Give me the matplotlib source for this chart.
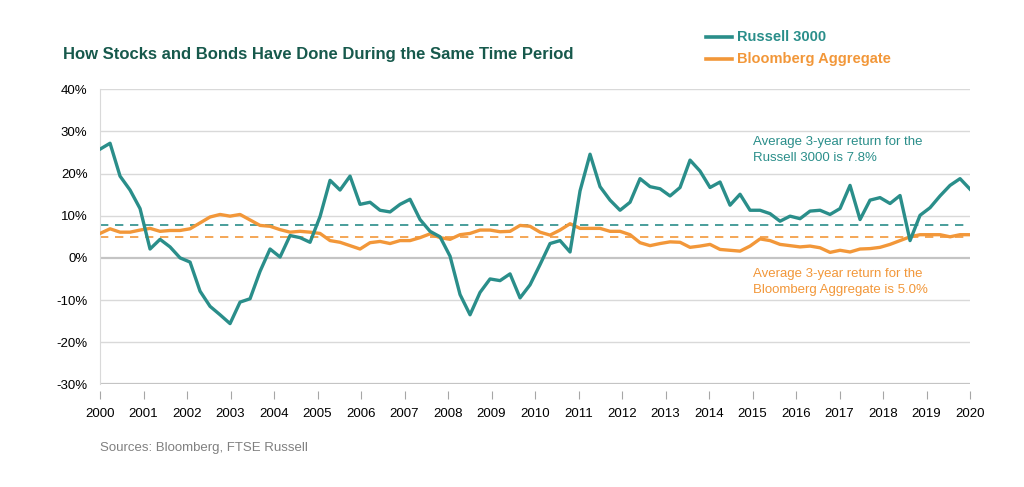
import matplotlib.pyplot as plt
import numpy as np

# 3-year rolling returns (%), 88 points from 2000 to 2020
russell = [25.8, 27.2, 19.4, 16.1, 11.7, 2.1, 4.4, 2.6, 0.0, -1.0,
           -7.9, -11.5, -13.5, -15.6, -10.5, -9.7, -3.2, 2.1, 0.2, 5.3,
           4.8, 3.7, 9.8, 18.4, 16.1, 19.4, 12.7, 13.2, 11.3, 10.9,
           12.7, 13.9, 9.1, 6.3, 5.0, 0.4, -8.7, -13.5, -8.2, -5.0,
           -5.4, -3.8, -9.5, -6.4, -1.6, 3.4, 4.1, 1.4, 15.9, 24.6,
           16.9, 13.7, 11.3, 13.2, 18.8, 16.9, 16.4, 14.7, 16.7, 23.2,
           20.6, 16.7, 18.0, 12.5, 15.1, 11.3, 11.3, 10.5, 8.7, 9.9,
           9.3, 11.1, 11.3, 10.3, 11.7, 17.2, 9.1, 13.7, 14.3, 12.9,
           14.8, 4.1, 10.1, 11.9, 14.7, 17.2, 18.8, 16.3]
bloomberg = [5.8, 6.9, 6.1, 6.1, 6.6, 7.0, 6.3, 6.5, 6.5, 6.9,
             8.3, 9.7, 10.3, 9.9, 10.3, 9.0, 7.7, 7.5, 6.7, 6.1,
             6.3, 6.1, 5.8, 4.1, 3.7, 2.9, 2.1, 3.6, 3.9, 3.4,
             4.1, 4.1, 4.8, 5.7, 4.8, 4.4, 5.5, 5.8, 6.6, 6.6,
             6.2, 6.3, 7.7, 7.5, 6.1, 5.4, 6.6, 8.1, 7.0, 7.0,
             7.0, 6.3, 6.3, 5.5, 3.6, 2.9, 3.4, 3.8, 3.7, 2.5,
             2.8, 3.2, 2.0, 1.8, 1.6, 2.8, 4.5, 4.1, 3.2, 2.9,
             2.6, 2.8, 2.4, 1.3, 1.8, 1.4, 2.1, 2.2, 2.5, 3.2,
             4.1, 5.0, 5.5, 5.5, 5.5, 5.0, 5.5, 5.5]
russell_avg = 7.8
bloomberg_avg = 5.0
years = list(range(2000, 2021))
yticks = [-30, -20, -10, 0, 10, 20, 30, 40]

green = '#2a8e8a'
orange = '#f29739'
title_col = '#17594c'

plt.rcParams['font.family'] = ['Liberation Sans', 'DejaVu Sans']

x = np.linspace(2000, 2020, len(russell))

fig = plt.figure(figsize=(10.24, 4.87), dpi=100)
ax = fig.add_axes([0.0977, 0.2109, 0.8496, 0.6057])

for v in yticks:
    if v == 0 or v == -30:
        ax.axhline(v, color='#c4c4c4', lw=1.6, zorder=1)
    else:
        ax.axhline(v, color='#d9d9d9', lw=1.0, zorder=1)

ax.axhline(russell_avg, color=green, lw=1.2, ls=(0, (5, 4)), zorder=2)
ax.axhline(bloomberg_avg, color=orange, lw=1.2, ls=(0, (5, 4)), zorder=2)

ax.plot(x, bloomberg, color=orange, lw=2.4, zorder=3)
ax.plot(x, russell, color=green, lw=2.4, zorder=4)

ax.set_xlim(2000, 2020)
ax.set_ylim(-30, 40)
ax.set_yticks(yticks)
ax.set_yticklabels([f'{v}%' for v in yticks])
ax.set_xticks(years)
ax.set_xticklabels([str(y) for y in years])

for s in ['top', 'right']:
    ax.spines[s].set_visible(False)
ax.spines['left'].set_color('#d9d9d9')
ax.spines['bottom'].set_position(('outward', 5))
ax.spines['bottom'].set_visible(False)
ax.tick_params(axis='y', length=0, labelsize=9.5, pad=9)
ax.tick_params(axis='x', length=6, color='#a6a6a6', labelsize=9.5, pad=6)

ax.text(2015.02, 29.0, 'Average 3-year return for the\nRussell 3000 is 7.8%',
        color=green, fontsize=9.5, va='top', ha='left', linespacing=1.45)
ax.text(2015.02, -2.4, 'Average 3-year return for the\nBloomberg Aggregate is 5.0%',
        color=orange, fontsize=9.5, va='top', ha='left', linespacing=1.45)

fig.text(63 / 1024, 1 - 55 / 487, 'How Stocks and Bonds Have Done During the Same Time Period',
         fontsize=12, fontweight='bold', color=title_col, va='center', ha='left')

# legend drawn by hand in figure coords
fig.add_artist(plt.Line2D([706 / 1024, 732 / 1024], [1 - 37 / 487] * 2, color=green, lw=2.6))
fig.add_artist(plt.Line2D([706 / 1024, 732 / 1024], [1 - 59 / 487] * 2, color=orange, lw=2.6))
fig.text(737 / 1024, 1 - 37 / 487, 'Russell 3000',
         fontsize=10.5, fontweight='bold', color=green, va='center')
fig.text(737 / 1024, 1 - 59 / 487, 'Bloomberg Aggregate',
         fontsize=10.5, fontweight='bold', color=orange, va='center')

fig.text(100 / 1024, 1 - 448 / 487, 'Sources: Bloomberg, FTSE Russell', color='#808080',
         fontsize=9.5, va='center', ha='left')

fig.savefig('out.png', dpi=100)
